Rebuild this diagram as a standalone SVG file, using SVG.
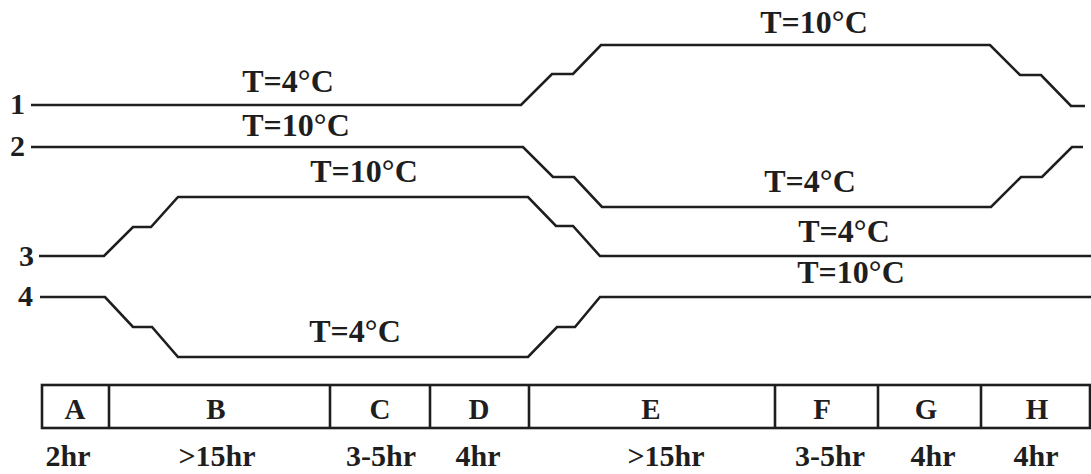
<svg xmlns="http://www.w3.org/2000/svg" width="1091" height="474" viewBox="0 0 1091 474">
  <style>
    .trace { fill: none; stroke: #1e1e1e; stroke-width: 2.6; stroke-linejoin: miter; }
    .temp { font-family: "Liberation Serif", "Times New Roman", serif; font-weight: bold; font-size: 32px; fill: #1e1e1e; text-anchor: middle; }
    .num { font-family: "Liberation Serif", "Times New Roman", serif; font-weight: bold; font-size: 30px; fill: #1e1e1e; text-anchor: end; }
    .cell { fill: none; stroke: #1e1e1e; stroke-width: 2.6; }
    .phase { font-family: "Liberation Serif", "Times New Roman", serif; font-weight: bold; font-size: 29px; fill: #1e1e1e; text-anchor: middle; }
    .dur { font-family: "Liberation Serif", "Times New Roman", serif; font-weight: bold; font-size: 30px; fill: #1e1e1e; text-anchor: middle; }
  </style>
  <rect width="1091" height="474" fill="#ffffff"/>

  <!-- temperature profiles -->
  <g id="connectors">
    <path id="trace-1" class="trace" d="M31,105 H521 L552,74 H573 L601,45 H990 L1020,75 H1041 L1071,106 H1085"/>
    <path id="trace-2" class="trace" d="M31,147 H523 L553,177 H574 L602,207 H991 L1021,177 H1042 L1072,147 H1083"/>
    <path id="trace-3" class="trace" d="M39,256 H104 L133,227 H151 L178,197 H528 L556,226 H573 L600,256 H1091"/>
    <path id="trace-4" class="trace" d="M40,297 H105 L133,327 H152 L178,357 H528 L557,327 H575 L600,297 H1091"/>
  </g>

  <!-- profile numbers -->
  <g id="profile-labels">
    <text class="num" x="25" y="114">1</text>
    <text class="num" x="25" y="156">2</text>
    <text class="num" x="34" y="266">3</text>
    <text class="num" x="33" y="306">4</text>
  </g>

  <!-- temperature labels -->
  <g id="temperature-labels">
    <text class="temp" x="288" y="92">T=4°C</text>
    <text class="temp" x="296" y="136">T=10°C</text>
    <text class="temp" x="364" y="182">T=10°C</text>
    <text class="temp" x="355" y="342">T=4°C</text>
    <text class="temp" x="814" y="33">T=10°C</text>
    <text class="temp" x="810" y="192">T=4°C</text>
    <text class="temp" x="844" y="242">T=4°C</text>
    <text class="temp" x="851" y="283">T=10°C</text>
  </g>

  <!-- phase table -->
  <g id="phase-table">
    <rect class="cell" x="42" y="385" width="1048" height="43"/>
    <path class="cell" d="M109,385 V428 M330,385 V428 M430,385 V428 M529,385 V428 M775,385 V428 M878,385 V428 M981,385 V428"/>
    <text class="phase" x="75" y="419">A</text>
    <text class="phase" x="216" y="419">B</text>
    <text class="phase" x="380" y="419">C</text>
    <text class="phase" x="479" y="419">D</text>
    <text class="phase" x="651" y="419">E</text>
    <text class="phase" x="822" y="419">F</text>
    <text class="phase" x="926" y="419">G</text>
    <text class="phase" x="1037" y="419">H</text>
  </g>

  <!-- phase durations -->
  <g id="durations">
    <text class="dur" x="68" y="466">2hr</text>
    <text class="dur" x="217" y="466">&gt;15hr</text>
    <text class="dur" x="381" y="466">3-5hr</text>
    <text class="dur" x="478" y="466">4hr</text>
    <text class="dur" x="666" y="466">&gt;15hr</text>
    <text class="dur" x="830" y="466">3-5hr</text>
    <text class="dur" x="933" y="466">4hr</text>
    <text class="dur" x="1036" y="466">4hr</text>
  </g>
</svg>
